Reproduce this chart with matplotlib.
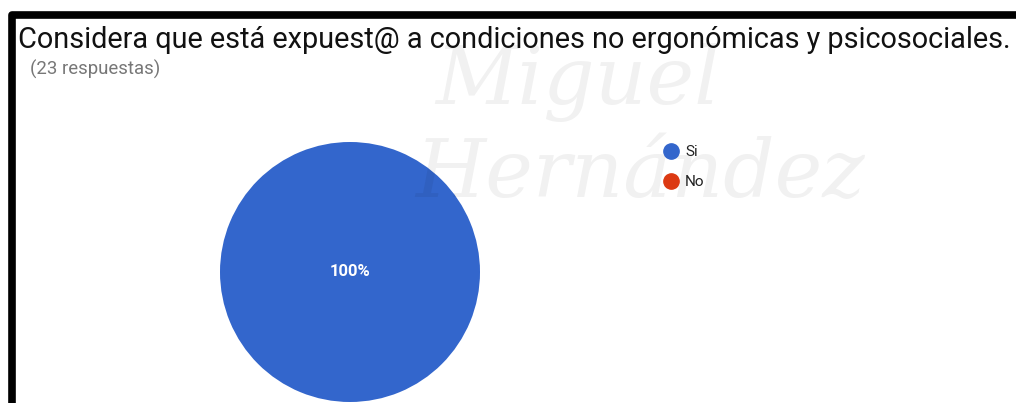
import matplotlib

matplotlib.use("Agg")
import matplotlib.pyplot as plt
from matplotlib.lines import Line2D

plt.rcParams["font.family"] = ["Roboto", "DejaVu Sans"]

TITLE = "Considera que está expuest@ a condiciones no ergonómicas y psicosociales."
SUBTITLE = "(23 respuestas)"
categories = ["Si", "No"]
values = [23, 0]
colors = ["#3366CC", "#DC3912"]

W, H = 1016, 403
fig = plt.figure(figsize=(W / 100, H / 100), dpi=100)
ax = fig.add_axes([0, 0, 1, 1])
ax.set_xlim(0, W)
ax.set_ylim(H, 0)
ax.set_aspect("equal")
ax.axis("off")

# faint watermark behind the chart
ax.text(435, 82, "Miguel", fontsize=58, family="DejaVu Serif", style="italic",
        color="#000000", alpha=0.055, va="center", zorder=5)
ax.text(415, 175, "Hernández", fontsize=58, family="DejaVu Serif", style="italic",
        color="#000000", alpha=0.055, va="center", zorder=5)

# black frame (left + top)
ax.plot([11.5, 11.5, W], [H, 15, 15], color="black", lw=5.5, solid_capstyle="butt", zorder=1)

ax.text(18, 40, TITLE, fontsize=20.8, color="#111111", va="center", ha="left")
ax.text(30, 69, SUBTITLE, fontsize=13.4, color="#777777", va="center", ha="left")

ax.pie(values, colors=colors, center=(350, 272), radius=130, startangle=90,
       counterclock=False, autopct=lambda p: f"{p:.0f}%" if p > 0 else "",
       pctdistance=0.0, textprops=dict(color="white", fontsize=12, fontweight="bold"),
       wedgeprops=dict(linewidth=0))
ax.set_xlim(0, W)
ax.set_ylim(H, 0)

handles = [Line2D([], [], marker="o", ls="", markersize=11, markerfacecolor=c,
                  markeredgecolor=c) for c in colors]
ax.legend(handles, categories, loc="upper left", bbox_to_anchor=(656 / W, 1 - 139 / H),
          frameon=False, handletextpad=0.3, labelspacing=1.05, fontsize=11,
          handlelength=1.2, borderaxespad=0, labelcolor="#222222")

fig.savefig("out.png", dpi=100)
